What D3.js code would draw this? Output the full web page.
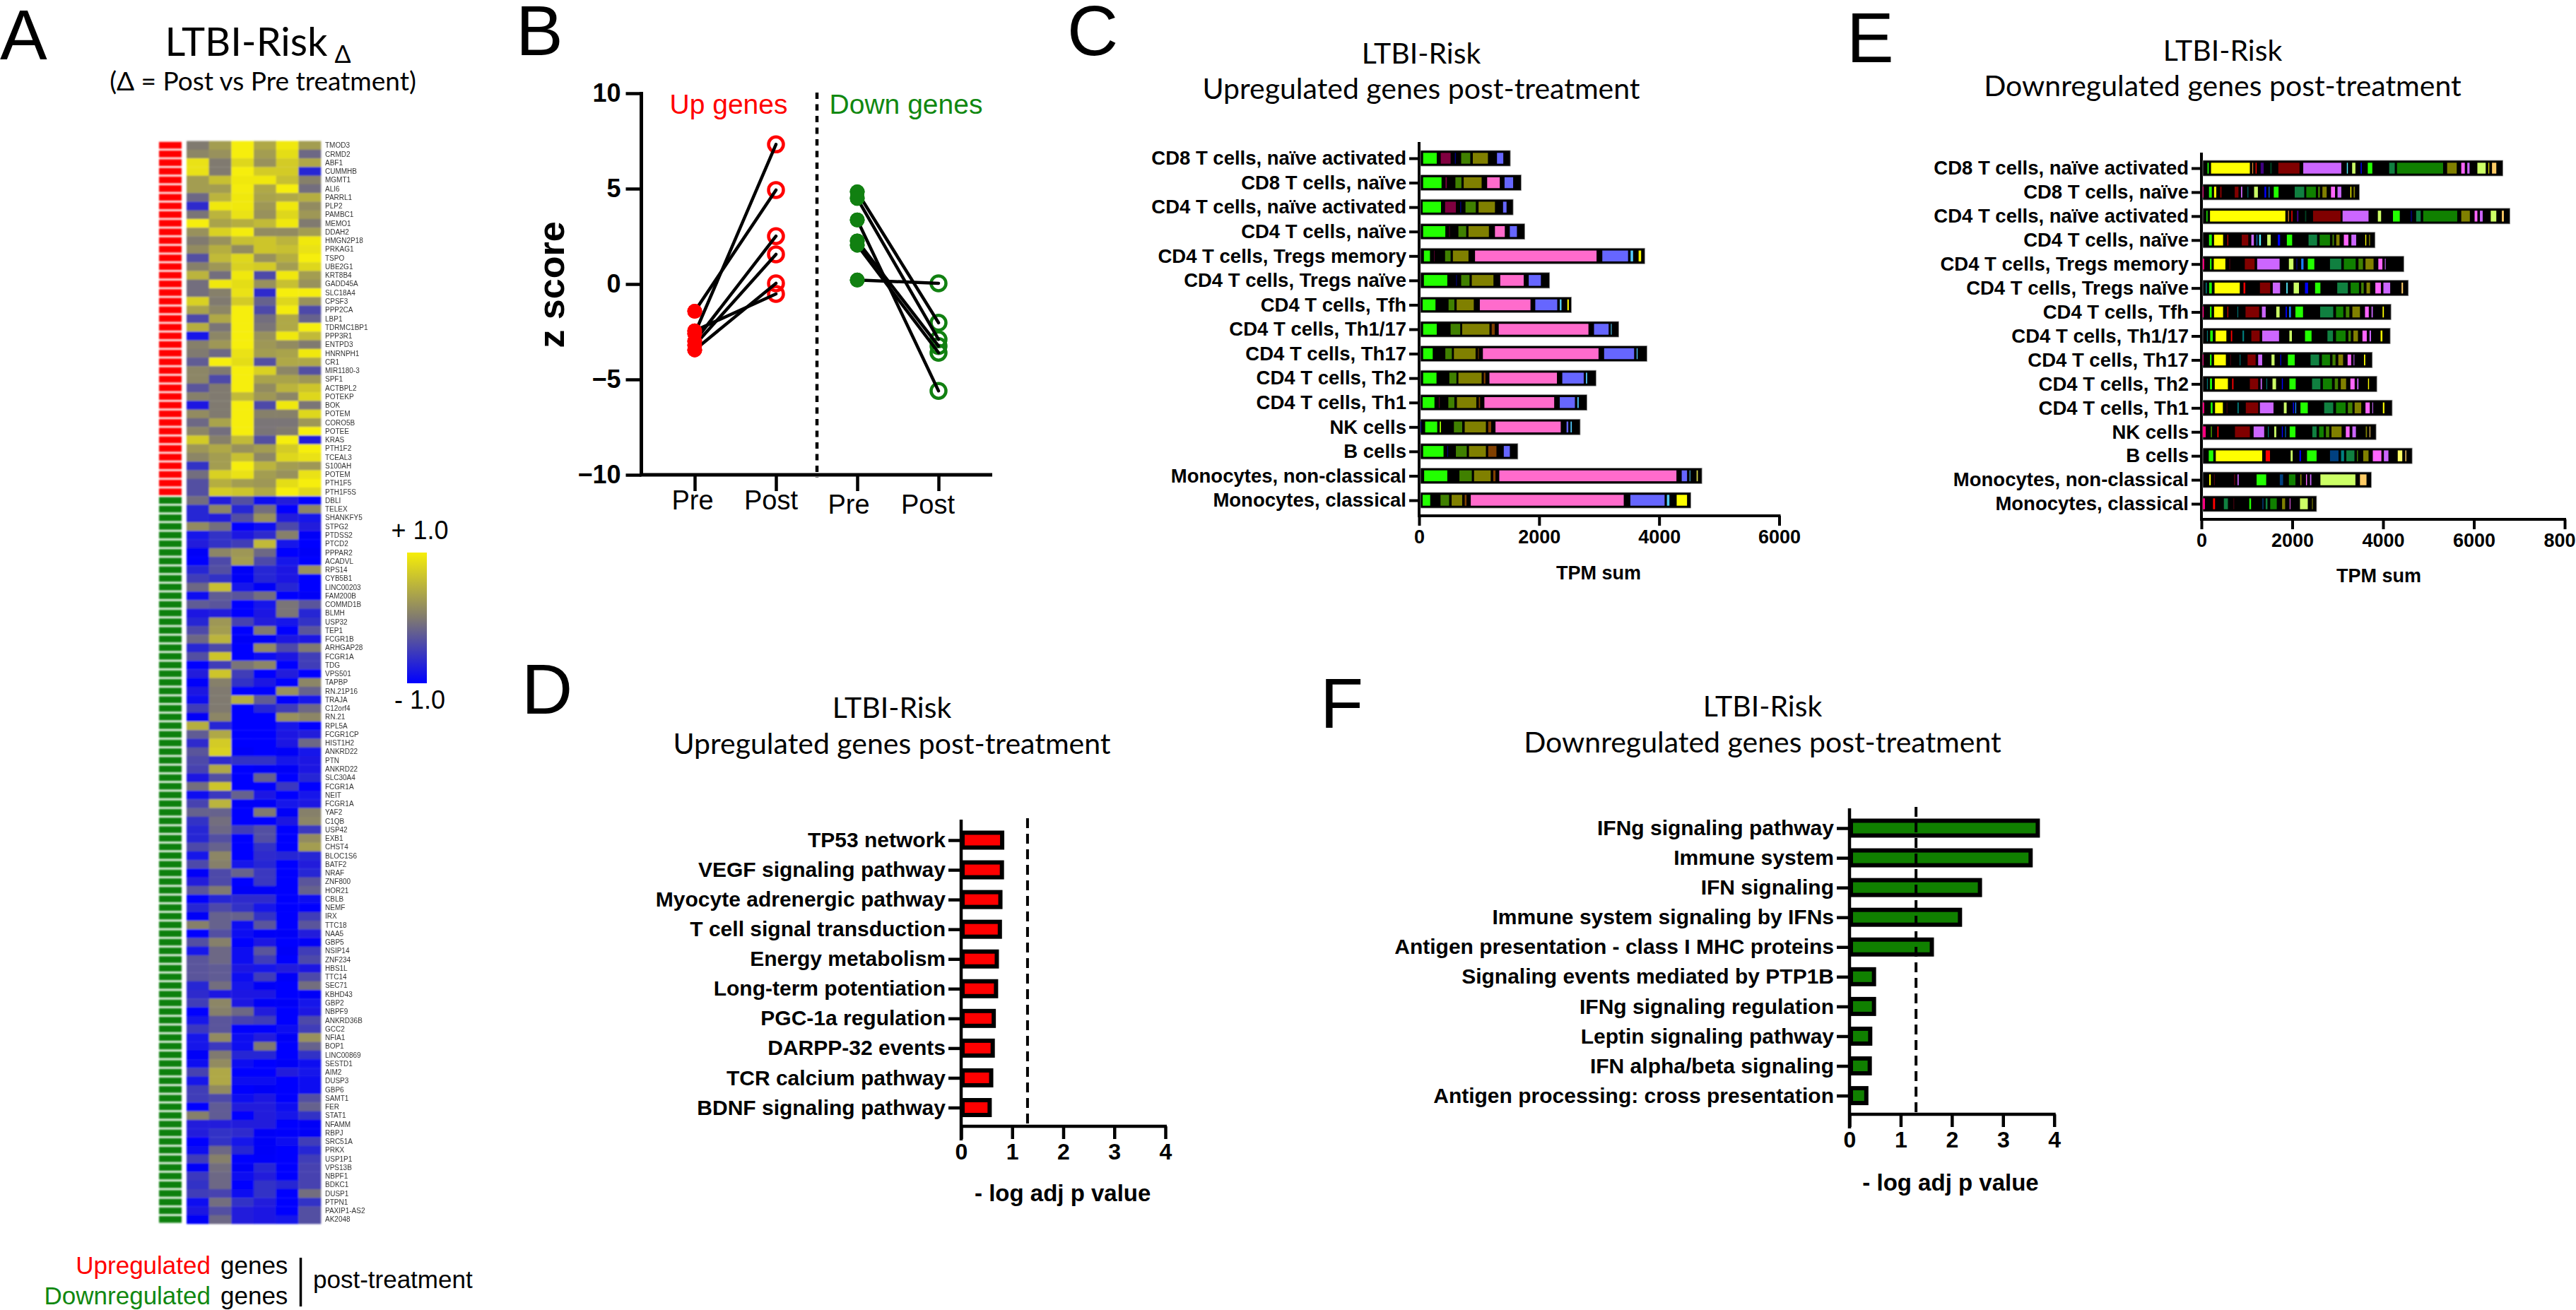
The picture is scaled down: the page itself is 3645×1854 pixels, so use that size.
<!DOCTYPE html>
<html><head><meta charset="utf-8">
<script src="https://cdn.jsdelivr.net/npm/d3@7"></script>
<style>
html,body{margin:0;padding:0;background:#fff;overflow:hidden}
svg{display:block}
text{font-family:"Liberation Sans",Arial,sans-serif;fill:#000}
.cal text,text.cal{font-family:Lato,"Open Sans",sans-serif}
.b{font-weight:700}
</style></head><body>
<script>
// ---------- Panel A data ----------
const geneUp=["TMOD3","CRMD2","ABF1","CUMMHB","MGMT1","ALI6","PARRL1","PLP2","PAMBC1","MEMO1","DDAH2","HMGN2P18","PRKAG1","TSPO","UBE2G1","KRT8B4","GADD45A","SLC18A4","CPSF3","PPP2CA","LBP1","TDRMC1BP1","PPP3R1","ENTPD3","HNRNPH1","CR1","MIR1180-3","SPF1","ACTBPL2","POTEKP","BOK","POTEM","CORO5B","POTEE","KRAS","PTH1F2","TCEAL3","S100AH","POTEM","PTH1F5","PTH1F5S"];
const geneDown=["DBLI","TELEX","SHANKFY5","STPG2","PTDSS2","PTCD2","PPPAR2","ACADVL","RPS14","CYB5B1","LINC00203","FAM200B","COMMD1B","BLMH","USP32","TEP1","FCGR1B","ARHGAP28","FCGR1A","TDG","VPS501","TAPBP","RN.21P16","TRAJA","C12orf4","RN.21","RPL5A","FCGR1CP","HIST1H2","ANKRD22","PTN","ANKRD22","SLC30A4","FCGR1A","NEIT","FCGR1A","YAF2","C1QB","USP42","EXB1","CHST4","BLOC1S6","BATF2","NRAF","ZNF800","HOR21","CBLB","NEMF","IRX","TTC18","NAA5","GBP5","NSIP14","ZNF234","HBS1L","TTC14","SEC71","KBHD43","GBP2","NBPF9","ANKRD36B","GCC2","NFIA1","BOP1","LINC00869","SESTD1","AIM2","DUSP3","GBP6","SAMT1","FER","STAT1","NFAMM","RBPJ","SRC51A","PRKX","USP1P1","VPS13B","NBPF1","BDKC1","DUSP1","PTPN1","PAXIP1-AS2","AK2048"];
const heatUp=[[0,.3,1,.4,.95,.3],[.1,.2,1,.3,.85,-.15],[.9,0,.8,.2,.7,.4],[.9,0,1,.7,.7,-.7],[.3,.6,.95,.95,.6,.05],[.3,.3,.98,.4,1,-.1],[-.15,.5,.95,.35,.4,.45],[-.65,.95,.95,.25,.95,.15],[-.05,.5,.9,.2,.8,.25],[1,.35,.45,.55,.95,0],[.2,.75,.98,.15,.15,.3],[0,.2,.6,.65,.5,.95],[.15,.45,.15,.65,.6,.9],[-.35,.55,.8,.2,.45,1],[.05,.25,.75,.7,.3,.8],[.5,-.1,.95,-.4,.95,.3],[-.1,.95,.85,.2,.6,.2],[-.1,.05,.9,-.65,1,1],[.75,0,.7,-.2,.8,.2],[.35,.1,1,-.4,.98,-.4],[-.4,.4,1,-.1,.4,-.2],[.45,-.05,1,-.05,.4,1],[-.85,.1,1,.2,.95,.55],[.05,.25,1,.25,.15,0],[0,-.15,.9,.3,.35,.95],[-.25,1,.85,-.35,.4,.4],[.1,0,1,.75,.1,-.35],[.1,-.4,1,.35,.35,.25],[-.3,0,1,.15,.5,.65],[.05,0,.55,.25,.1,.8],[-.8,0,1,-.4,.95,-.05],[.15,0,1,.05,.05,.8],[-.15,.35,1,-.05,-.05,.25],[.1,-.1,1,-.05,0,1],[.7,.05,.55,-.35,1,-.75],[.25,.4,.2,.3,.7,1],[.1,.3,.6,.1,.8,.9],[-.6,.3,1,.5,.3,.25],[-.1,.75,.9,.3,.2,.9],[-.35,.45,.3,.25,.85,1],[-.35,.7,.65,.4,1,.8]];
const heatDown=[[-.1,-.75,-.35,-.9,-.75,-1],[-.7,.1,-.7,-.1,-1,.1],[-.7,-.75,-.35,.2,-.75,-.85],[.15,-.1,-1,-.9,-.4,-.75],[-.85,-.6,-.8,-.65,.05,-.95],[-.75,-.6,-.5,.55,-.85,-1],[-.95,.1,.25,-.15,-1,-.95],[-1,-.4,.3,-.4,-.85,-1],[-.7,-.35,-.95,-.7,-.8,.2],[-.5,-.6,-.95,-.7,-.8,-1],[-.15,.6,-.85,-.95,-.7,-1],[-.9,-.25,-.3,-.1,-1,-.95],[-.25,-.3,-1,-.85,-.05,-.3],[-.8,-.75,-1,-.8,-.05,-.7],[-.7,.25,-.45,-.75,-.85,-.6],[-.4,.3,-1,0,-1,-.3],[-.15,.5,-.95,-.95,-.8,-.8],[-.7,-.4,-1,.15,-.4,0],[-.35,.65,-1,-.9,-.8,-.5],[-1,-.5,-.05,.1,-1,-.5],[-.75,.65,-.5,-1,-.75,-1],[-.97,.05,-.6,-.8,-1,.1],[-.8,0,-1,-1,.2,-.2],[-.9,0,.45,-.25,-1,-.85],[-.5,0,-1,-.7,-.5,-.15],[-.95,.1,-1,-1,.2,.1],[.45,-.7,-1,-1,-.85,-1],[-.25,.4,-1,-1,-.8,-.75],[-.65,.7,-1,-1,-.8,-.15],[-.3,.75,-.95,-1,-.95,-.85],[-.4,-.65,-.6,-.6,-.85,-.8],[-.45,.4,-1,-.95,-.95,-.8],[-.8,-.35,-1,-.2,-1,-.7],[-.1,.65,-1,-1,-.55,-1],[-.9,-.55,-.2,-.8,-1,-.85],[-.45,.5,-.95,-.95,-.85,-.8],[-.2,-.2,-1,0,-.95,.05],[-.6,-.1,-1,-1,-.8,.1],[-.7,-.15,-.5,-.35,-1,-.55],[-.7,-.35,-1,-.35,-1,.15],[-.4,-.2,-1,-.6,-1,.3],[-.85,.1,-1,-.65,-.7,-.7],[-.4,.05,-.85,-.7,-1,-.75],[-.95,-.4,-.2,-.55,-1,-.7],[-.75,-.4,-1,-.55,-1,-.3],[-.3,0,-.95,-.95,-1,-.2],[-1,-.7,-.65,-.65,-1,-.9],[-.7,-.4,-.6,-.85,-1,-1],[-.95,-.2,-.2,-.6,-1,-.5],[.05,-.2,-.9,-.3,-1,-.3],[-1,-.35,-.9,-.95,-.95,-.75],[-.35,.05,-1,-.8,-1,-.95],[-.85,-.15,-.9,-.3,-.95,-.5],[-.3,-.15,-.9,-.5,-1,-.4],[-.3,-.25,-.8,-.85,-.75,-.8],[-.3,-.25,-.9,-.5,-.95,-.4],[-.7,-.1,-.85,-.95,-1,-.1],[-.65,-.8,-.8,-.8,-1,-.95],[-.5,.1,-.8,-.95,-.95,-.85],[-1,.05,-.15,-.75,-1,-.8],[-.85,-.3,-.45,-.5,-1,-.4],[-.55,-.3,-1,-1,-.9,-.5],[-.85,.15,-.9,-.75,-.95,.2],[-.85,-.55,-.9,0,-1,-.2],[-.95,0,-.7,-.7,-1,-.6],[-.9,.15,-.9,-1,-.95,-.9],[-.45,.4,-1,-1,-.75,-.85],[-.85,.4,-.9,-.9,-1,-.9],[-.5,.15,-1,-.95,-1,-.9],[-.5,-.4,-.9,-.8,-1,-.35],[-1,-.25,-.75,-.75,-.9,-.2],[.05,-.25,-1,-.75,-.85,-.6],[-.75,-.75,-.75,-.75,-1,-.95],[-.75,-.6,-.65,-.95,-.98,-.95],[-1,-.6,-.85,-.95,-.9,-.5],[-.9,-.15,-.7,-.95,-1,-.7],[-.5,.05,-1,-.97,-1,-.5],[-.95,-.1,-.95,-.7,-1,-.45],[-.55,-.15,-.9,-.75,-1,-.45],[-.6,-.15,-1,-.6,-.7,-.45],[-.5,-.45,-.9,-.6,-1,-.1],[-.9,-.1,-.6,-.75,-1,-.6],[-.8,-.35,-.75,-.8,-1,-.35],[-.95,-.15,-.75,-.8,-.85,-.35]];
// ---------- Panel B data ----------
const upPre=[-2.6,-1.43,-3.0,-3.2,-3.45,-2.45];
const upPost=[7.32,4.93,2.51,1.56,.04,-.52];
const downPre=[4.83,4.49,3.36,2.26,2.04,.21];
const downPost=[-2.03,-2.9,-5.6,-3.25,-3.6,.04];
const zTicks=[-10,-5,0,5,10];
const zCats=["Pre","Post","Pre ","Post "];
// ---------- Panels C, E data ----------
const cells=["CD8 T cells, naïve activated","CD8 T cells, naïve","CD4 T cells, naïve activated","CD4 T cells, naïve","CD4 T cells, Tregs memory","CD4 T cells, Tregs naïve","CD4 T cells, Tfh","CD4 T cells, Th1/17","CD4 T cells, Th17","CD4 T cells, Th2","CD4 T cells, Th1","NK cells","B cells","Monocytes, non-classical","Monocytes, classical"];
const cTotals=[1520,1700,1567,1760,3760,2175,2537,3326,3797,2948,2797,2684,1646,4712,4528];
const cSegments=[
[["g",67,294],["m",361,525],["n",596,613],["d",701,853],["o",895,1147],["b",1298,1403]],
[["g",67,374],["m",441,462],["d",605,706],["o",743,1042],["p",1134,1344],["b",1424,1567]],
[["g",59,365],["m",433,613],["n",685,701],["d",773,945],["o",991,1264],["b",1399,1457]],
[["g",67,437],["h",500,512],["d",655,785],["o",823,1163],["p",1264,1428],["b",1512,1630]],
[["g",80,181],["h",248,260],["d",433,525],["o",563,823],["p",932,2957],["b",3053,3482],["c",3524,3566],["y",3658,3700]],
[["g",80,470],["n",617,630],["d",701,840],["o",878,1239],["p",1352,1743],["b",1827,2029]],
[["g",59,273],["d",491,588],["o",626,911],["p",1012,1856],["b",1936,2302],["c",2344,2373],["y",2470,2495]],
[["g",67,294],["d",525,685],["o",718,1172],["r",1210,1260],["p",1327,2822],["b",2915,3158],["c",3196,3209]],
[["g",67,227],["d",437,546],["o",580,941],["r",983,995],["p",1063,2990],["b",3083,3583],["c",3625,3641]],
[["g",67,290],["d",504,622],["o",655,1042],["r",1079,1105],["p",1172,2297],["b",2386,2743],["c",2780,2801]],
[["g",59,256],["h",328,344],["d",487,588],["o",630,953],["r",995,1016],["p",1088,2251],["b",2344,2596],["c",2638,2659]],
[["n",25,38],["g",101,302],["l",344,365],["d",580,718],["o",760,1113],["r",1151,1201],["p",1273,2360],["b",2457,2486],["c",2524,2545]],
[["g",67,407],["n",470,483],["d",613,794],["o",831,1113],["r",1151,1289],["b",1411,1512]],
[["g",84,470],["d",672,878],["o",916,1193],["r",1235,1273],["p",1336,4288],["b",4376,4465],["c",4507,4519],["w",4624,4645]],
[["g",59,185],["d",357,500],["o",542,718],["r",760,790],["p",861,3410],["b",3520,4091],["c",4129,4171],["y",4292,4465]]];
const eTotals=[6638,3480,6793,3824,4457,4557,4174,4157,3763,3863,4201,3846,4640,3741,2536];
const eSegments=[
[["g",133,161],["y",211,1066],["O",1121,1138],["R",1193,1215],["V",1304,1371],["T",1515,1548],["M",1693,2159],["L",2242,3080],["C",3202,3225],["A",3319,3391],["N",3508,3530],["g",3663,3763],["E",4135,4257],["F",4307,5322],["o",5411,5622],["P",5722,5800],["L",5855,5905],["A",6077,6260],["y",6321,6338],["Q",6399,6494]],
[["H",28,44],["g",167,228],["y",278,327],["M",411,444],["M",733,816],["L",871,899],["I",1016,1032],["A",1160,1243],["N",1388,1426],["S",1482,1499],["g",1593,1698],["E",2054,2264],["F",2309,2520],["d",2570,2609],["o",2664,2758],["P",2853,2942],["L",2997,3080],["y",3280,3302],["o",3352,3380]],
[["g",111,133],["y",189,1848],["O",1909,1926],["R",1981,2004],["V",2103,2137],["T",2281,2309],["M",2458,3064],["L",3108,3680],["A",3885,3957],["g",4218,4368],["Z",4607,4640],["E",4729,4829],["F",4884,5633],["o",5722,5911],["P",6016,6077],["L",6133,6194],["A",6371,6494],["Q",6616,6660]],
[["g",167,228],["y",278,477],["R",572,588],["M",888,1032],["L",1099,1154],["S",1215,1227],["C",1271,1310],["A",1449,1526],["N",1682,1732],["g",1881,1998],["E",2359,2547],["F",2603,2831],["d",2886,2919],["o",2969,3041],["P",3136,3236],["L",3302,3408],["y",3608,3630],["o",3691,3713]],
[["H",28,61],["g",189,222],["y",272,527],["X",616,633],["M",955,1171],["L",1227,1721],["A",1926,2026],["Z",2087,2115],["S",2198,2248],["g",2342,2486],["E",2831,3080],["F",3136,3397],["d",3458,3558],["o",3613,3791],["P",3896,3985],["L",4040,4057]],
[["I",94,117],["g",172,228],["y",289,844],["R",927,966],["M",1288,1515],["L",1571,1732],["C",1870,1898],["A",2031,2148],["N",2281,2348],["g",2503,2620],["E",2991,3225],["F",3286,3469],["d",3519,3574],["o",3635,3713],["P",3830,3952],["L",4007,4157],["Q",4407,4440]],
[["H",28,50],["g",189,222],["y",278,477],["R",572,588],["I",794,805],["M",971,1271],["L",1332,1415],["A",1648,1721],["N",1854,1882],["S",1931,1970],["g",2070,2237],["E",2614,2903],["F",2964,3125],["d",3180,3258],["o",3324,3491],["P",3602,3685],["L",3746,3774],["y",3990,4018]],
[["I",122,139],["g",194,250],["y",311,549],["R",649,677],["I",905,938],["M",1099,1282],["L",1338,1709],["A",1937,1992],["g",2281,2425],["E",2775,2897],["F",2964,3175],["d",3236,3291],["o",3347,3447],["P",3546,3641],["L",3702,3735],["y",3946,3985]],
[["H",28,44],["g",189,222],["y",278,538],["X",633,644],["I",844,860],["M",1016,1193],["L",1249,1338],["A",1543,1610],["N",1737,1754],["g",1904,2054],["E",2403,2592],["F",2653,2831],["d",2886,2953],["o",3014,3119],["P",3219,3297],["L",3352,3363],["y",3580,3608]],
[["I",122,139],["g",189,233],["y",294,583],["R",677,705],["M",1066,1249],["L",1304,1332],["I",1432,1443],["A",1565,1643],["N",1771,1793],["g",1937,2076],["E",2436,2620],["F",2675,2875],["d",2936,3008],["o",3069,3186],["P",3280,3374],["L",3430,3458],["y",3669,3691]],
[["H",28,61],["g",205,244],["y",300,472],["X",555,566],["I",794,821],["M",977,1249],["L",1288,1587],["A",1815,1876],["N",2015,2037],["S",2065,2087],["g",2181,2342],["E",2703,2903],["F",2964,3175],["d",3225,3325],["o",3374,3519],["P",3613,3707],["L",3763,3780],["y",3996,4029]],
[["H",28,94],["d",205,233],["R",350,377],["M",738,1066],["L",1149,1382],["I",1465,1482],["A",1604,1648],["N",1771,1793],["B",1837,1865],["g",1943,2070],["E",2442,2536],["F",2592,2692],["d",2742,2814],["o",2864,3086],["P",3180,3263],["L",3324,3402],["o",3619,3646],["Q",3702,3719]],
[["g",161,261],["y",316,1338],["R",1415,1510],["A",1965,2009],["N",2159,2192],["g",2325,2536],["B",2831,3019],["I",3075,3141],["E",3191,3369],["d",3425,3447],["o",3563,3680],["P",3774,3963],["L",4018,4118],["Y",4323,4423],["Q",4490,4512]],
[["y",172,205],["X",277,294],["X",716,744],["L",794,821],["g",1215,1426],["B",1726,1798],["F",1926,2070],["o",2176,2203],["P",2303,2325],["L",2392,2420],["A",2620,3391],["Q",3491,3635]],
[["H",28,78],["R",255,300],["E",494,583],["X",705,721],["g",1054,1093],["B",1343,1365],["E",1415,1454],["F",1515,1659],["o",1776,1843],["P",1943,1959],["A",2170,2342],["o",2436,2453]]];
const cTicks=[0,2000,4000,6000];
const eTicks=[0,2000,4000,6000,8000];
const segColors={g:"#22ff00",m:"#800040",h:"#50002a",n:"#000080",d:"#408000",o:"#808000",r:"#804000",p:"#ff6bcc",b:"#6666ff",c:"#55ccff",y:"#ffff00",w:"#d8d84a",l:"#a0ff00",
 O:"#ff9933",R:"#ff0000",V:"#400080",T:"#004020",M:"#800000",X:"#500010",L:"#cc66ff",C:"#55eeff",A:"#ccff66",N:"#0000ff",Z:"#000060",S:"#1a80ff",E:"#108040",F:"#108000",P:"#ff66ff",H:"#ff0080",Q:"#ffcc66",B:"#004080",I:"#008080",Y:"#ffff66"};
// ---------- Panels D, F data ----------
const dTerms=["TP53 network","VEGF signaling pathway","Myocyte adrenergic pathway","T cell signal transduction","Energy metabolism","Long-term potentiation","PGC-1a regulation","DARPP-32 events","TCR calcium pathway","BDNF signaling pathway"];
const dValues=[.845,.84,.81,.80,.74,.725,.68,.66,.63,.60];
const fTerms=["IFNg signaling pathway","Immune system","IFN signaling","Immune system signaling by IFNs","Antigen presentation - class I MHC proteins","Signaling events mediated by PTP1B","IFNg signaling regulation","Leptin signaling pathway","IFN alpha/beta signaling","Antigen processing: cross presentation"];
const fValues=[3.72,3.58,2.59,2.2,1.65,.52,.52,.446,.437,.37];
const pTicks=[0,1,2,3,4];
const pThreshold=1.3;

const W=3645,H=1854;
const svg=d3.select("body").append("svg").attr("width",W).attr("height",H).attr("viewBox",`0 0 ${W} ${H}`);
const defs=svg.append("defs");
defs.append("filter").attr("id","soft").attr("x","-5%").attr("y","-5%").attr("width","110%").attr("height","110%").append("feGaussianBlur").attr("stdDeviation",.9);
defs.append("filter").attr("id","softT").attr("x","-5%").attr("y","-5%").attr("width","110%").attr("height","110%").append("feGaussianBlur").attr("stdDeviation",.55);

function T(x,y,s,size,opt={}){
  const t=svg.append("text").attr("x",x).attr("y",y).attr("font-size",size).text(s);
  if(opt.anchor)t.attr("text-anchor",opt.anchor);
  if(opt.bold)t.attr("font-weight",700);
  if(opt.cal)t.attr("class","cal");
  if(opt.fill)t.style("fill",opt.fill);
  return t;
}
// panel letters
[["A",0,84],["B",730,78],["C",1510,78],["D",738,1010],["E",2613,88],["F",1868,1030]].forEach(d=>T(d[1],d[2],d[0],100));

function styleAxis(g,lw,size,bold){
  g.select(".domain").remove();
  g.selectAll("line").attr("stroke","#000").attr("stroke-width",lw);
  g.selectAll("text").attr("font-family","Liberation Sans").attr("font-size",size).attr("font-weight",bold?700:400).style("fill","#000");
}

// ---------- Panel A ----------
(function(){
  T(365,79,"LTBI-Risk",56,{cal:1,anchor:"middle"}).append("tspan").attr("dx",10).attr("dy",10).attr("font-size",34).text("Δ");
  T(372,128,"(Δ = Post vs Pre treatment)",37,{cal:1,anchor:"middle"});
  const genes=geneUp.concat(geneDown), rows=heatUp.concat(heatDown);
  const y=d3.scaleBand().domain(d3.range(genes.length)).range([199.6,1732]);
  const x=d3.scaleBand().domain(d3.range(6)).range([264,454]);
  const col=d3.scaleLinear().domain([-1,0,1]).range(["#0000ff","#807a70","#f6ee08"]);
  const gH=svg.append("g").attr("filter","url(#soft)");
  rows.forEach((r,i)=>r.forEach((v,j)=>gH.append("rect").attr("x",x(j)).attr("y",y(i)).attr("width",x.bandwidth()+.3).attr("height",y.bandwidth()+.3).attr("fill",col(v))));
  genes.forEach((g,i)=>gH.append("rect").attr("x",225).attr("y",y(i)+1.2).attr("width",32).attr("height",y.bandwidth()-2.6).attr("fill",i<geneUp.length?"#ff0000":"#108010"));
  const gL=svg.append("g").attr("filter","url(#softT)");
  genes.forEach((g,i)=>gL.append("text").attr("x",460).attr("y",y(i)+y.bandwidth()/2+3.6).attr("font-size",10).style("fill","#333").text(g));
  // colour bar
  const gid="cb";const grad=defs.append("linearGradient").attr("id",gid).attr("x1",0).attr("x2",0).attr("y1",0).attr("y2",1);
  [1,.5,0,-.5,-1].forEach((v,i)=>grad.append("stop").attr("offset",i/4).attr("stop-color",col(v)));
  svg.append("rect").attr("x",576).attr("y",782).attr("width",28).attr("height",185).attr("fill",`url(#${gid})`);
  T(594,763,"+ 1.0",36,{anchor:"middle"});
  T(594,1003,"- 1.0",36,{anchor:"middle"});
  // legend
  const e=298;
  T(e,1803,"Upregulated",35,{anchor:"end",fill:"#ff0000"});
  T(e,1846,"Downregulated",35,{anchor:"end",fill:"#118811"});
  T(312,1803,"genes",35);T(312,1846,"genes",35);
  svg.append("line").attr("x1",425.5).attr("x2",425.5).attr("y1",1780).attr("y2",1849).attr("stroke","#000").attr("stroke-width",3.5);
  T(443,1823,"post-treatment",35);
})();

// ---------- Panel B ----------
(function(){
  const y=d3.scaleLinear().domain([-10,10]).range([672,132]);
  const x=d3.scalePoint().domain(zCats).range([983,1328]);
  const xx=c=>x(c);
  const ya=svg.append("g").attr("transform","translate(907.5,0)").call(d3.axisLeft(y).tickValues(zTicks).tickSize(22).tickPadding(7).tickFormat(d3.format("d")));
  styleAxis(ya,4.5,36,true);
  svg.append("line").attr("x1",907.5).attr("x2",907.5).attr("y1",y(10)-2).attr("y2",y(-10)+2).attr("stroke","#000").attr("stroke-width",5);
  svg.append("line").attr("x1",905).attr("x2",1404).attr("y1",y(-10)).attr("y2",y(-10)).attr("stroke","#000").attr("stroke-width",5);
  const xa=svg.append("g").attr("transform",`translate(0,${y(-10)})`).call(d3.axisBottom(x).tickSize(23).tickFormat(""));
  styleAxis(xa,4.5,36,false);
  T(980,721,"Pre",38,{anchor:"middle"});T(1091,721,"Post",38,{anchor:"middle"});
  T(1201,727,"Pre",38,{anchor:"middle"});T(1313,727,"Post",38,{anchor:"middle"});
  svg.append("line").attr("x1",1156).attr("x2",1156).attr("y1",y(10)-1).attr("y2",y(-10)+4).attr("stroke","#000").attr("stroke-width",4.5).attr("stroke-dasharray","9 7.5");
  const zl=svg.append("text").attr("transform","translate(798,403) rotate(-90)").attr("text-anchor","middle").attr("font-size",52).attr("font-weight",700).text("z score");
  T(1031,161,"Up genes",39,{anchor:"middle",fill:"#ff0000"});
  T(1282,161,"Down genes",39,{anchor:"middle",fill:"#118811"});
  function pairs(pre,post,a,b,c){
    pre.forEach((v,i)=>svg.append("circle").attr("cx",xx(a)).attr("cy",y(v)).attr("r",10.5).attr("fill",c));
    post.forEach((v,i)=>svg.append("circle").attr("cx",xx(b)).attr("cy",y(v)).attr("r",10.5).attr("fill","none").attr("stroke",c).attr("stroke-width",4.5));
    pre.forEach((v,i)=>svg.append("line").attr("x1",xx(a)).attr("x2",xx(b)).attr("y1",y(v)).attr("y2",y(post[i])).attr("stroke","#000").attr("stroke-width",4.5).attr("stroke-linecap","round"));
  }
  pairs(upPre,upPost,"Pre","Post","#ff0000");
  pairs(downPre,downPost,"Pre ","Post ","#118011");
  // filled markers sit above the line start
  upPre.forEach(v=>svg.append("circle").attr("cx",xx("Pre")).attr("cy",y(v)).attr("r",10.5).attr("fill","#ff0000"));
  downPre.forEach(v=>svg.append("circle").attr("cx",xx("Pre ")).attr("cy",y(v)).attr("r",10.5).attr("fill","#118011"));
})();

// ---------- Panels C, E ----------
function stacked(opt){
  const x=d3.scaleLinear().domain([0,opt.ticks[opt.ticks.length-1]]).range(opt.xr);
  const y=d3.scalePoint().domain(cells).range(opt.yr);
  const ya=svg.append("g").attr("transform",`translate(${opt.xr[0]},0)`).call(d3.axisLeft(y).tickSize(14).tickPadding(4));
  styleAxis(ya,4,opt.fs,true);
  svg.append("line").attr("x1",opt.xr[0]).attr("x2",opt.xr[0]).attr("y1",opt.top).attr("y2",opt.base+2).attr("stroke","#000").attr("stroke-width",4);
  svg.append("line").attr("x1",opt.xr[0]).attr("x2",opt.xr[1]+2).attr("y1",opt.base).attr("y2",opt.base).attr("stroke","#000").attr("stroke-width",4);
  const xa=svg.append("g").attr("transform",`translate(0,${opt.base})`).call(d3.axisBottom(x).tickValues(opt.ticks).tickSize(14).tickPadding(6).tickFormat(d3.format("d")));
  styleAxis(xa,4,opt.fsTick,true);
  cells.forEach((c,i)=>{
    svg.append("rect").attr("x",x(0)+2).attr("y",y(c)-11).attr("width",x(opt.totals[i])-x(0)-2).attr("height",22).attr("fill","#000").attr("stroke","#8a8a8a").attr("stroke-width",.8);
    opt.segs[i].forEach(s=>svg.append("rect").attr("x",x(s[1])).attr("y",y(c)-7.7).attr("width",Math.max(x(s[2])-x(s[1]),1)).attr("height",15.4).attr("fill",segColors[s[0]]));
  });
  T(opt.labX,opt.labY,"TPM sum",opt.fsTick,{anchor:"middle",bold:1});
}
T(2011,90,"LTBI-Risk",41,{cal:1,anchor:"middle"});
T(2011,140,"Upregulated genes post-treatment",41,{cal:1,anchor:"middle"});
stacked({xr:[2008,2517.5],yr:[224,708],top:201,base:730,ticks:cTicks,totals:cTotals,segs:cSegments,fs:27.5,fsTick:27,labX:2262,labY:820});
T(3145,86,"LTBI-Risk",41,{cal:1,anchor:"middle"});
T(3145,136,"Downregulated genes post-treatment",41,{cal:1,anchor:"middle"});
stacked({xr:[3115,3629],yr:[238,713],top:216,base:735,ticks:eTicks,totals:eTotals,segs:eSegments,fs:27.5,fsTick:27,labX:3366,labY:824});

// ---------- Panels D, F ----------
function enrich(opt){
  const x=d3.scaleLinear().domain([0,4]).range(opt.xr);
  const y=d3.scalePoint().domain(opt.terms).range(opt.yr);
  const ya=svg.append("g").attr("transform",`translate(${opt.xr[0]},0)`).call(d3.axisLeft(y).tickSize(18).tickPadding(4));
  styleAxis(ya,4.5,opt.fs,true);
  svg.append("line").attr("x1",opt.xr[0]).attr("x2",opt.xr[0]).attr("y1",opt.top).attr("y2",opt.base+20).attr("stroke","#000").attr("stroke-width",4.5);
  const xa=svg.append("g").attr("transform",`translate(0,${opt.base})`).call(d3.axisBottom(x).tickValues(pTicks).tickSize(18).tickPadding(6).tickFormat(d3.format("d")));
  styleAxis(xa,4.5,32,true);
  svg.append("line").attr("x1",opt.xr[0]).attr("x2",opt.xr[1]+2).attr("y1",opt.base).attr("y2",opt.base).attr("stroke","#000").attr("stroke-width",4.5);
  opt.vals.forEach((v,i)=>{
    const yy=y(opt.terms[i]);
    svg.append("rect").attr("x",x(0)+2).attr("y",yy-10.5).attr("width",x(v)-x(0)-5).attr("height",21).attr("fill",opt.color).attr("stroke","#000").attr("stroke-width",6);
  });
  svg.append("line").attr("x1",x(pThreshold)).attr("x2",x(pThreshold)).attr("y1",opt.top-2).attr("y2",opt.base+4).attr("stroke","#000").attr("stroke-width",4).attr("stroke-dasharray","14 8");
  T(opt.labX,opt.labY,"- log adj p value",33,{anchor:"middle",bold:1});
}
T(1262,1016,"LTBI-Risk",41,{cal:1,anchor:"middle"});
T(1262,1067,"Upregulated genes post-treatment",41,{cal:1,anchor:"middle"});
enrich({xr:[1360,1649],yr:[1189,1567.5],top:1160,base:1594,terms:dTerms,vals:dValues,color:"#ff0000",fs:30,labX:1503.7,labY:1700});
T(2494,1014,"LTBI-Risk",41,{cal:1,anchor:"middle"});
T(2494,1065,"Downregulated genes post-treatment",41,{cal:1,anchor:"middle"});
enrich({xr:[2617,2906.7],yr:[1172,1550.6],top:1144,base:1577,terms:fTerms,vals:fValues,color:"#108000",fs:30,labX:2760,labY:1685});
</script>
</body></html>
